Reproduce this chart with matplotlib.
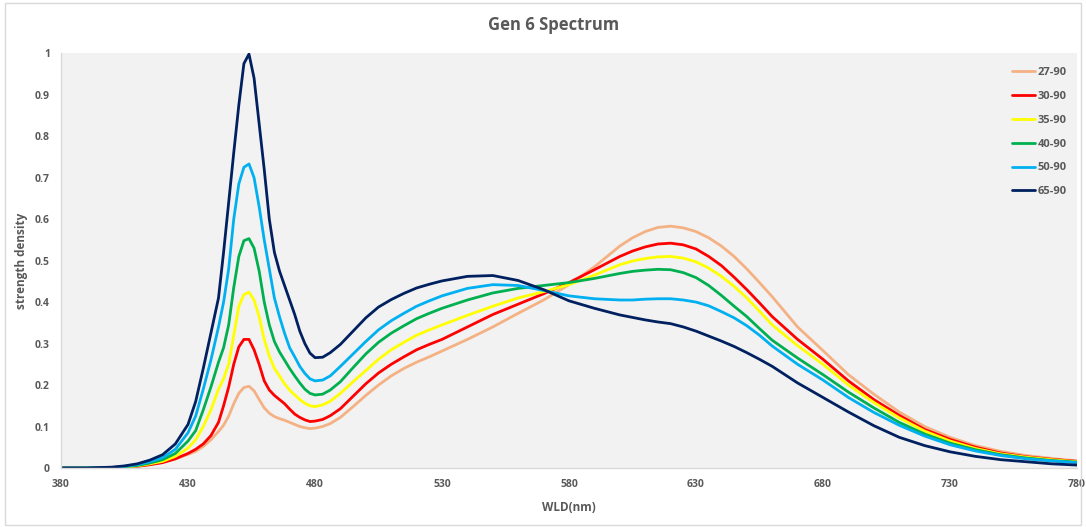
import matplotlib
matplotlib.use("Agg")
import matplotlib.pyplot as plt
from matplotlib.patches import Rectangle
from matplotlib.ticker import FuncFormatter

plt.rcParams["font.family"] = ["Open Sans", "DejaVu Sans"]

# wavelength grid (nm), denser around the blue peak
wld = [380, 390, 400, 405, 410, 415, 420, 425, 430, 433, 436, 439, 442, 444,
       446, 448, 450, 452, 454, 456, 458, 460, 462, 464, 466, 468, 470, 472,
       474, 476, 478, 480, 483, 486, 490, 495, 500, 505, 510, 515, 520, 525,
       530, 540, 550, 560, 570, 580, 590, 600, 605, 610, 615, 620, 625, 630,
       635, 640, 645, 650, 655, 660, 670, 680, 690, 700, 710, 720, 730, 740,
       750, 760, 770, 780]

s27 = [0, 0, 0, 0.002, 0.004, 0.008, 0.013, 0.022, 0.033, 0.04, 0.052, 0.068,
       0.088, 0.103, 0.125, 0.155, 0.18, 0.194, 0.197, 0.186, 0.165, 0.145,
       0.132, 0.124, 0.119, 0.115, 0.11, 0.105, 0.1, 0.097, 0.095, 0.096, 0.1,
       0.107, 0.122, 0.148, 0.175, 0.2, 0.222, 0.24, 0.255, 0.268, 0.282, 0.31,
       0.34, 0.373, 0.405, 0.442, 0.485, 0.535, 0.555, 0.57, 0.58, 0.583, 0.579,
       0.57, 0.555, 0.535, 0.51, 0.48, 0.447, 0.413, 0.34, 0.283, 0.225, 0.178,
       0.135, 0.1, 0.074, 0.054, 0.04, 0.03, 0.023, 0.017]

s30 = [0, 0, 0, 0.002, 0.004, 0.008, 0.013, 0.022, 0.035, 0.045, 0.058, 0.078,
       0.11, 0.15, 0.195, 0.25, 0.292, 0.31, 0.31, 0.285, 0.25, 0.21, 0.188,
       0.175, 0.165, 0.155, 0.142, 0.13, 0.122, 0.116, 0.112, 0.113, 0.117,
       0.126, 0.143, 0.173, 0.203, 0.229, 0.25, 0.268, 0.285, 0.298, 0.31, 0.34,
       0.37, 0.395, 0.42, 0.447, 0.478, 0.51, 0.523, 0.533, 0.54, 0.542, 0.538,
       0.528, 0.51, 0.488, 0.46, 0.43, 0.398, 0.365, 0.31, 0.262, 0.21, 0.165,
       0.127, 0.093, 0.069, 0.05, 0.036, 0.027, 0.021, 0.016]

s35 = [0, 0, 0.001, 0.002, 0.005, 0.01, 0.016, 0.028, 0.048, 0.068, 0.1, 0.14,
       0.19, 0.215, 0.25, 0.32, 0.39, 0.418, 0.424, 0.405, 0.365, 0.31, 0.27,
       0.24, 0.222, 0.203, 0.188, 0.176, 0.165, 0.156, 0.15, 0.148, 0.152,
       0.161, 0.18, 0.208, 0.235, 0.262, 0.285, 0.303, 0.32, 0.333, 0.345,
       0.368, 0.39, 0.41, 0.425, 0.442, 0.465, 0.49, 0.499, 0.505, 0.509, 0.51,
       0.506, 0.497, 0.482, 0.462, 0.438, 0.41, 0.378, 0.345, 0.295, 0.25, 0.2,
       0.158, 0.121, 0.089, 0.065, 0.047, 0.034, 0.026, 0.02, 0.015]

s40 = [0, 0, 0.001, 0.003, 0.006, 0.012, 0.02, 0.035, 0.065, 0.09, 0.14, 0.195,
       0.255, 0.29, 0.345, 0.435, 0.51, 0.548, 0.553, 0.53, 0.475, 0.4, 0.345,
       0.305, 0.28, 0.26, 0.24, 0.222, 0.205, 0.19, 0.18, 0.176, 0.178, 0.188,
       0.208, 0.242, 0.275, 0.303, 0.325, 0.343, 0.36, 0.373, 0.385, 0.405,
       0.422, 0.433, 0.44, 0.447, 0.457, 0.469, 0.474, 0.477, 0.479, 0.478,
       0.471, 0.459, 0.44, 0.416, 0.39, 0.365, 0.336, 0.308, 0.265, 0.225,
       0.183, 0.145, 0.11, 0.082, 0.06, 0.044, 0.032, 0.024, 0.018, 0.014]

s50 = [0, 0, 0.001, 0.004, 0.008, 0.015, 0.025, 0.045, 0.085, 0.125, 0.19, 0.26,
       0.34, 0.4, 0.48, 0.6, 0.685, 0.725, 0.733, 0.7, 0.63, 0.55, 0.48, 0.41,
       0.365, 0.325, 0.29, 0.268, 0.245, 0.228, 0.215, 0.21, 0.212, 0.222,
       0.245, 0.275, 0.305, 0.333, 0.355, 0.373, 0.39, 0.403, 0.415, 0.433,
       0.442, 0.44, 0.428, 0.415, 0.408, 0.405, 0.405, 0.407, 0.408, 0.408,
       0.405, 0.4, 0.391, 0.377, 0.362, 0.343, 0.32, 0.294, 0.25, 0.212, 0.17,
       0.134, 0.103, 0.077, 0.056, 0.041, 0.03, 0.022, 0.017, 0.013]

s65 = [0, 0, 0.002, 0.005, 0.01, 0.019, 0.032, 0.058, 0.105, 0.16, 0.24, 0.325,
       0.41, 0.52, 0.64, 0.76, 0.875, 0.975, 0.998, 0.94, 0.83, 0.72, 0.6,
       0.52, 0.475, 0.44, 0.405, 0.37, 0.33, 0.3, 0.277, 0.266, 0.267, 0.278,
       0.298, 0.33, 0.362, 0.388, 0.406, 0.421, 0.434, 0.443, 0.451, 0.462,
       0.464, 0.452, 0.43, 0.403, 0.385, 0.369, 0.363, 0.357, 0.352, 0.348,
       0.34, 0.33, 0.318, 0.306, 0.293, 0.278, 0.262, 0.245, 0.205, 0.17, 0.135,
       0.102, 0.074, 0.054, 0.039, 0.028, 0.02, 0.015, 0.01, 0.007]

labels = ["27-90", "30-90", "35-90", "40-90", "50-90", "65-90"]
colors = ["#F4B183", "#FF0000", "#FFFF00", "#00B050", "#00B0F0", "#002060"]
x_ticks = [380, 430, 480, 530, 580, 630, 680, 730, 780]

txt = "#595959"

fig = plt.figure(figsize=(10.86, 5.27), dpi=100)
fig.patches.append(Rectangle((0.005, 0.004), 0.99, 0.99, transform=fig.transFigure,
                             fill=False, edgecolor="#D9D9D9", linewidth=1))
ax = fig.add_axes([0.0562, 0.112, 0.9355, 0.787])
ax.set_facecolor("#F2F2F2")

for ys, lab, col in zip([s27, s30, s35, s40, s50, s65], labels, colors):
    ax.plot(wld, ys, color=col, linewidth=2, label=lab,
            solid_joinstyle="round", solid_capstyle="round")

ax.set_xlim(380, 780)
ax.set_ylim(0, 1)
ax.set_xticks(x_ticks)
ax.set_yticks([i / 10 for i in range(11)])
ax.yaxis.set_major_formatter(FuncFormatter(lambda v, _: f"{v:g}"))
ax.tick_params(length=0, labelsize=7.5, colors=txt, pad=8)
for lbl in ax.get_xticklabels() + ax.get_yticklabels():
    lbl.set_fontweight("bold")

for side in ["top", "right"]:
    ax.spines[side].set_visible(False)
for side in ["left", "bottom"]:
    ax.spines[side].set_color("#D9D9D9")
    ax.spines[side].set_linewidth(1)

ax.set_xlabel("WLD(nm)", fontsize=8.5, fontweight="bold", color=txt, labelpad=8)
ax.set_ylabel("strength density", fontsize=8.5, fontweight="bold", color=txt)
ax.yaxis.set_label_coords(-0.033, 0.5)
fig.suptitle("Gen 6 Spectrum", x=0.51, y=0.97, fontsize=12, fontweight="bold", color=txt)

leg = ax.legend(loc="upper right", bbox_to_anchor=(1.0, 0.99), frameon=False,
                fontsize=8, handlelength=2.0, handletextpad=0.3, labelspacing=1.15)
for t in leg.get_texts():
    t.set_color(txt)
    t.set_fontweight("bold")

fig.savefig("out.png", dpi=100)
